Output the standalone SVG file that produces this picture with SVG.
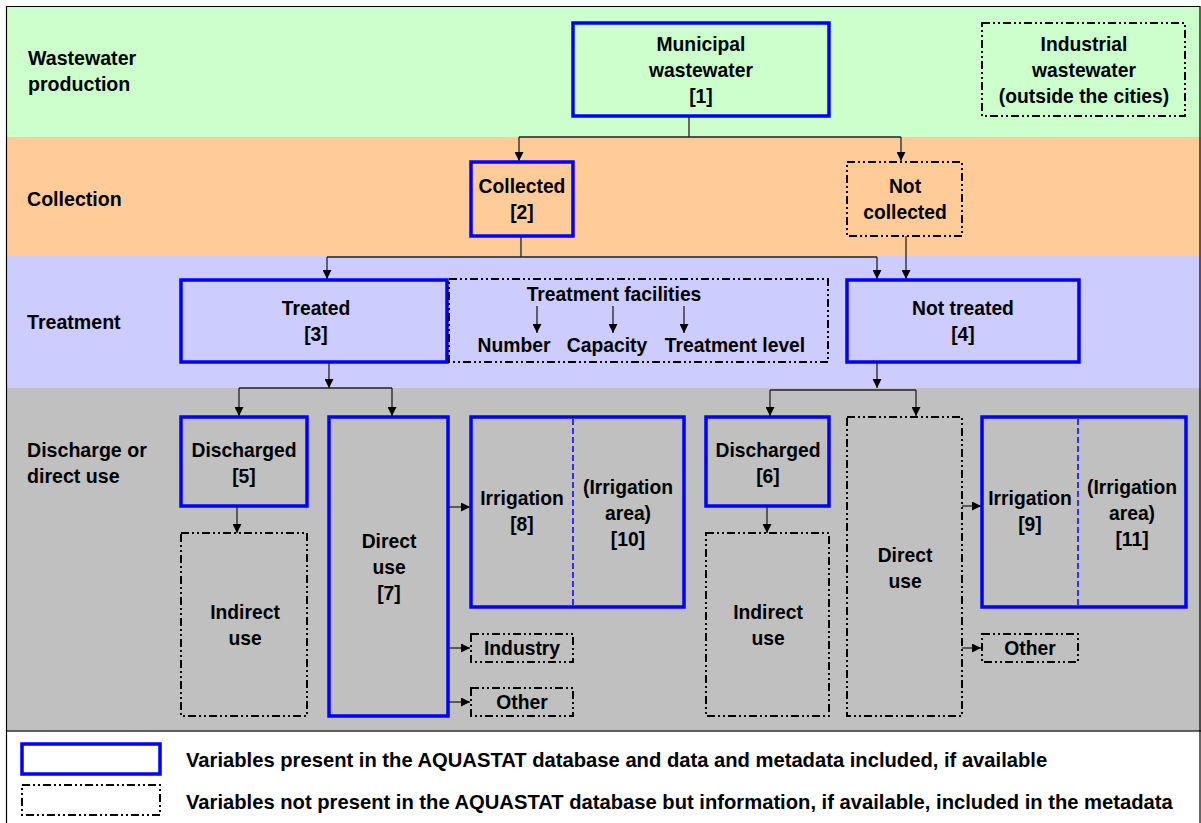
<svg xmlns="http://www.w3.org/2000/svg" width="1201" height="823" viewBox="0 0 1201 823">
<defs>
<marker id="ah" viewBox="0 0 10 10" refX="10" refY="5" markerWidth="9" markerHeight="9" markerUnits="userSpaceOnUse" orient="auto">
<path d="M0,0 L10,5 L0,10 z" fill="#000"/>
</marker>
<style>
text{font-family:"Liberation Sans",Arial,sans-serif;font-weight:bold;font-size:19.3px;fill:#000}
.c{text-anchor:middle}
.lb{font-size:19.6px}
.lg{font-size:20.2px}
.blue{fill:none;stroke:#0000FF;stroke-width:3.5}
.dash{fill:none;stroke:#000;stroke-width:2;stroke-dasharray:8 3 2 3 2 3}
.bdash{fill:none;stroke:#0000FF;stroke-width:1.5;stroke-dasharray:6 3}
.ln{fill:none;stroke:#222;stroke-width:1.3}
.ar{fill:none;stroke:#222;stroke-width:1.3;marker-end:url(#ah)}
</style>
</defs>
<rect x="0" y="0" width="1201" height="823" fill="#fff"/>
<g id="bands">
<rect x="6" y="6" width="1195" height="131" fill="#CCFFCC"/>
<rect x="6" y="137" width="1195" height="119" fill="#FFCC99"/>
<rect x="6" y="256" width="1195" height="132" fill="#CCCCFF"/>
<rect x="6" y="388" width="1195" height="343" fill="#C0C0C0"/>
<line x1="6" y1="731" x2="1201" y2="731" stroke="#333" stroke-width="1.5"/>
<path d="M1200,823 V6.5 H6.5 V823" fill="none" stroke="#000" stroke-width="1.2"/>
<text class="lb" x="28" y="65">Wastewater</text>
<text class="lb" x="28" y="91">production</text>
<text class="lb" x="27" y="206">Collection</text>
<text class="lb" x="27" y="329">Treatment</text>
<text class="lb" x="27" y="457">Discharge or</text>
<text class="lb" x="27" y="483">direct use</text>
</g>
<g id="connectors">
<path class="ln" d="M689,116 V137 M519,137 H901"/>
<path class="ar" d="M519,137 V161"/>
<path class="ar" d="M901,137 V161"/>
<path class="ln" d="M521,236 V257 M327,257 H877"/>
<path class="ar" d="M327,257 V279"/>
<path class="ar" d="M877,257 V279"/>
<path class="ar" d="M906,236 V279"/>
<path class="ar" d="M537,306 V333"/>
<path class="ar" d="M613,306 V333"/>
<path class="ar" d="M684,306 V333"/>
<path class="ar" d="M329,363 V388"/>
<path class="ln" d="M239,388 H392"/>
<path class="ar" d="M239,388 V416"/>
<path class="ar" d="M392,388 V416"/>
<path class="ar" d="M877,363 V388"/>
<path class="ln" d="M770,390 H916"/>
<path class="ar" d="M770,390 V416"/>
<path class="ar" d="M916,390 V416"/>
<path class="ar" d="M237,506 V533"/>
<path class="ar" d="M767,506 V533"/>
<path class="ar" d="M448,507 H470"/>
<path class="ar" d="M448,648 H470"/>
<path class="ar" d="M448,702 H470"/>
<path class="ar" d="M962,506 H981"/>
<path class="ar" d="M962,648 H981"/>
</g>
<g id="municipal">
<rect class="blue" x="573" y="23" width="256" height="93"/>
<text class="c" x="701" y="51">Municipal</text>
<text class="c" x="701" y="77">wastewater</text>
<text class="c" x="701" y="103">[1]</text>
</g>
<g id="industrial">
<rect class="dash" x="982" y="23" width="203" height="93"/>
<text class="c" x="1084" y="51">Industrial</text>
<text class="c" x="1084" y="77">wastewater</text>
<text class="c" x="1084" y="103">(outside the cities)</text>
</g>
<g id="collected">
<rect class="blue" x="471" y="162" width="102" height="74"/>
<text class="c" x="522" y="193">Collected</text>
<text class="c" x="522" y="219">[2]</text>
</g>
<g id="notcollected">
<rect class="dash" x="847" y="162" width="115" height="74"/>
<text class="c" x="905" y="193">Not</text>
<text class="c" x="905" y="219">collected</text>
</g>
<g id="treated">
<rect class="blue" x="181" y="280" width="266" height="82"/>
<text class="c" x="316" y="315">Treated</text>
<text class="c" x="316" y="341">[3]</text>
</g>
<g id="facilities">
<rect class="dash" x="449" y="279" width="379" height="83"/>
<text class="c" x="614" y="301">Treatment facilities</text>
<text class="c" x="514" y="352">Number</text>
<text class="c" x="607" y="352">Capacity</text>
<text class="c" x="735" y="352">Treatment level</text>
</g>
<g id="nottreated">
<rect class="blue" x="847" y="280" width="232" height="82"/>
<text class="c" x="963" y="315">Not treated</text>
<text class="c" x="963" y="341">[4]</text>
</g>
<g id="discharged5">
<rect class="blue" x="181" y="417" width="126" height="89"/>
<text class="c" x="244" y="457">Discharged</text>
<text class="c" x="244" y="483">[5]</text>
</g>
<g id="indirect1">
<rect class="dash" x="181" y="533" width="126" height="183"/>
<text class="c" x="245" y="619">Indirect</text>
<text class="c" x="245" y="645">use</text>
</g>
<g id="direct7">
<rect class="blue" x="329" y="417" width="119" height="299"/>
<text class="c" x="389" y="548">Direct</text>
<text class="c" x="389" y="574">use</text>
<text class="c" x="389" y="600">[7]</text>
</g>
<g id="irrigation8">
<rect class="blue" x="471" y="417" width="213" height="190"/>
<line class="bdash" x1="573" y1="419" x2="573" y2="606"/>
<text class="c" x="522" y="505">Irrigation</text>
<text class="c" x="522" y="531">[8]</text>
<text class="c" x="628" y="494">(Irrigation</text>
<text class="c" x="628" y="520">area)</text>
<text class="c" x="628" y="546">[10]</text>
</g>
<g id="industry">
<rect class="dash" x="471" y="634" width="102" height="28"/>
<text class="c" x="522" y="655">Industry</text>
</g>
<g id="other1">
<rect class="dash" x="471" y="688" width="102" height="28"/>
<text class="c" x="522" y="709">Other</text>
</g>
<g id="discharged6">
<rect class="blue" x="706" y="417" width="123" height="89"/>
<text class="c" x="768" y="457">Discharged</text>
<text class="c" x="768" y="483">[6]</text>
</g>
<g id="indirect2">
<rect class="dash" x="706" y="533" width="123" height="183"/>
<text class="c" x="768" y="619">Indirect</text>
<text class="c" x="768" y="645">use</text>
</g>
<g id="direct2">
<rect class="dash" x="847" y="417" width="115" height="299"/>
<text class="c" x="905" y="562">Direct</text>
<text class="c" x="905" y="588">use</text>
</g>
<g id="irrigation9">
<rect class="blue" x="982" y="417" width="204" height="190"/>
<line class="bdash" x1="1078" y1="419" x2="1078" y2="606"/>
<text class="c" x="1030" y="505">Irrigation</text>
<text class="c" x="1030" y="531">[9]</text>
<text class="c" x="1132" y="494">(Irrigation</text>
<text class="c" x="1132" y="520">area)</text>
<text class="c" x="1132" y="546">[11]</text>
</g>
<g id="other2">
<rect class="dash" x="982" y="634" width="96" height="28"/>
<text class="c" x="1030" y="655">Other</text>
</g>
<g id="legend">
<rect class="blue" x="22" y="744" width="138" height="30"/>
<rect class="dash" x="22" y="785" width="138" height="30"/>
<text class="lg" x="186" y="767">Variables present in the AQUASTAT database and data and metadata included, if available</text>
<text class="lg" x="186" y="809">Variables not present in the AQUASTAT database but information, if available, included in the metadata</text>
</g>
</svg>
